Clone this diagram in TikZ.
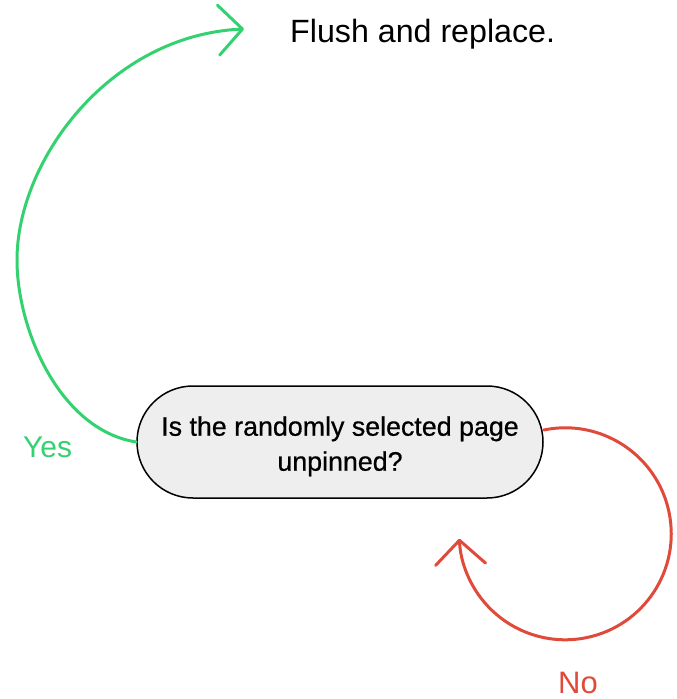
\documentclass[tikz,border=0pt]{standalone}
\usepackage{fontspec}
\setmainfont{Liberation Sans}
\newfontfamily\medfont[FakeBold=0.6]{Liberation Sans}
\usetikzlibrary{shapes.misc,arrows.meta,calc}
\definecolor{yesgreen}{RGB}{52,209,112}
\definecolor{nored}{RGB}{224,74,58}
\definecolor{nodegray}{RGB}{238,238,238}
\tikzset{
  decision/.style={rounded rectangle, draw=black, line width=1.5pt, fill=nodegray,
    minimum width=406pt, minimum height=112pt, inner sep=0pt, align=center,
    font=\medfont\fontsize{26.8}{35}\selectfont},
  flowarrow/.style={line width=3pt, line cap=round, line join=round,
    -{Straight Barb[length=24pt,width=50pt,round]}},
  yeslabel/.style={text=yesgreen, inner sep=0pt, anchor=base west, font=\fontsize{30}{36}\selectfont},
  nolabel/.style={text=nored, inner sep=0pt, anchor=base west, font=\fontsize{31}{36}\selectfont},
  plain/.style={inner sep=0pt, anchor=base west, font=\fontsize{32.2}{38}\selectfont}
}
\begin{document}
\begin{tikzpicture}[x=1pt,y=-1pt]
\useasboundingbox (0,0) rectangle (677,699);
\node[decision] (q) at (340,442) {\rule{0pt}{28pt}Is the randomly selected page\\unpinned?};
\node[plain] (flush) at (290,42) {Flush and replace.};
\node[yeslabel] (yes) at (23,457) {Yes};
\node[nolabel] (no) at (558,693) {No};
\coordinate (gtip) at (244,29);
\coordinate (rstart) at ($(q.east)+(0,-12)$);
\draw[flowarrow, draw=yesgreen] (q.west) .. controls (60,430) and (17,330) .. (17,260)
  .. controls (17,160) and (110,35) .. (gtip);
\draw[flowarrow, draw=nored] (rstart) arc[start angle=-101.7, end angle=177.3, radius=106];
\end{tikzpicture}
\end{document}
